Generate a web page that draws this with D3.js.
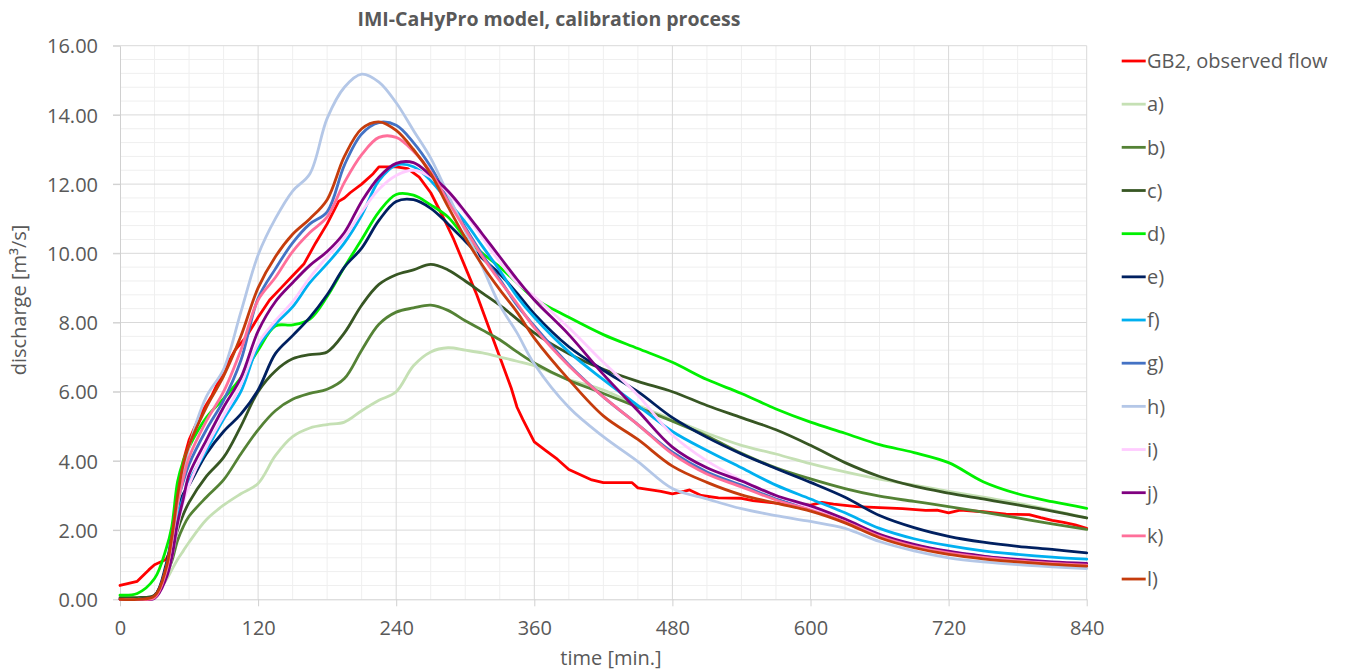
<!DOCTYPE html>
<html><head><meta charset="utf-8">
<script src="https://cdn.jsdelivr.net/npm/d3@7"></script>
<style>
body{margin:0;background:#fff}
svg text{font-family:"Open Sans",sans-serif;fill:#595959}
</style></head><body>
<svg id="chart" width="1346" height="671"></svg>
<script>
// ---------- data ----------
const titleText = "IMI-CaHyPro model, calibration process";
const xTitle = "time [min.]";
const yTitle = "discharge [m³/s]";
const xTicks = [0,120,240,360,480,600,720,840];
const yTicks = [0,2,4,6,8,10,12,14,16];
const seriesNames = ["GB2, observed flow","a)","b)","c)","d)","e)","f)","g)","h)","i)","j)","k)","l)"];

const obsTime = [0,15,25,30,40,45,50,55,60,70,80,90,100,110,120,130,140,150,160,170,180,190,195,200,210,220,225,240,250,260,270,280,290,300,310,320,330,340,345,350,360,370,380,390,400,410,420,435,445,450,460,470,480,490,495,505,520,540,550,570,600,610,620,640,660,680,700,710,720,730,750,770,790,800,810,820,830,840];
const obsFlow = [0.40,0.52,0.85,1.0,1.15,1.5,3.0,4.0,4.6,5.35,5.9,6.6,7.2,7.6,8.15,8.65,9.0,9.35,9.7,10.3,10.85,11.5,11.6,11.75,12.0,12.3,12.5,12.5,12.45,12.2,11.75,11.1,10.4,9.6,8.8,7.9,7.0,6.1,5.55,5.2,4.55,4.3,4.05,3.75,3.6,3.45,3.37,3.37,3.37,3.22,3.17,3.12,3.05,3.12,3.16,3.0,2.93,2.92,2.85,2.78,2.72,2.8,2.75,2.68,2.65,2.62,2.57,2.58,2.5,2.58,2.53,2.46,2.45,2.36,2.28,2.22,2.15,2.05];

const modelTime = [0,15,30,40,45,50,55,60,75,90,105,120,135,150,165,180,195,210,225,240,255,270,285,300,315,330,345,360,390,420,450,480,510,540,570,600,630,660,690,720,750,780,810,840];
const seriesA = [0,0,0.1,0.55,0.85,1.15,1.4,1.65, 2.3,2.72,3.05,3.35, 4.15,4.7,4.95,5.05, 5.12,5.45,5.75,6.0, 6.75,7.15,7.27,7.2, 7.12,7.0,6.88,6.75, 6.35,6.05,5.6,5.2, 4.8,4.45,4.2,3.92, 3.68,3.47,3.3,3.12, 2.95,2.78,2.57,2.35];
const seriesB = [0,0,0.1,0.7,1.1,1.7,2.1,2.4, 2.95,3.45,4.2,4.9, 5.45,5.78,5.95,6.07, 6.38,7.2,7.95,8.3, 8.42,8.5,8.35,8.05, 7.78,7.5,7.15,6.83, 6.33,5.95,5.55,5.15, 4.72,4.22,3.8,3.48, 3.2,2.98,2.83,2.68, 2.52,2.35,2.18,2.02];
const seriesC = [0.05,0.05,0.12,0.8,1.4,2.0,2.45,2.8, 3.55,4.1,5.0,6.0, 6.6,6.95,7.07,7.15, 7.7,8.5,9.1,9.38, 9.52,9.68,9.52,9.2, 8.85,8.5,8.1,7.7, 7.1,6.65,6.3,6.0, 5.6,5.25,4.9,4.45, 3.95,3.55,3.27,3.07, 2.9,2.73,2.55,2.35];
const seriesD = [0.12,0.17,0.6,1.45,2.1,3.4,4.0,4.4, 5.25,5.8,6.4,7.2, 7.9,7.93,8.1,8.75, 9.6,10.4,11.2,11.7, 11.68,11.4,11.05,10.45, 10.0,9.6,9.15,8.7, 8.15,7.65,7.25,6.85, 6.35,5.95,5.5,5.12, 4.8,4.47,4.24,3.95, 3.4,3.05,2.82,2.63];
const seriesE = [0,0,0.1,1.0,1.8,2.6,3.05,3.3, 4.2,4.85,5.35,6.05, 7.1,7.62,8.15,8.8, 9.6,10.15,10.95,11.5, 11.55,11.3,10.85,10.35, 9.85,9.4,8.85,8.25, 7.3,6.62,6.0,5.25, 4.68,4.2,3.78,3.38, 2.95,2.42,2.07,1.82, 1.65,1.53,1.44,1.34];
const seriesF = [0,0,0.05,0.8,1.5,2.4,2.95,3.4, 4.3,5.2,6.0,7.3, 7.95,8.45,9.15,9.7, 10.3,11.1,12.1,12.55, 12.5,12.1,11.5,10.9, 10.2,9.5,8.75,8.15, 7.15,6.35,5.6,4.85, 4.3,3.8,3.3,2.9, 2.5,2.05,1.75,1.55, 1.4,1.3,1.22,1.16];
const seriesG = [0,0,0.05,0.9,1.8,2.8,3.4,3.9, 4.9,5.75,6.9,8.7, 9.55,10.3,10.85,11.2, 12.55,13.45,13.78,13.7, 13.2,12.5,11.6,10.75, 9.95,9.25,8.5,7.9, 6.78,5.85,5.05,4.25, 3.68,3.3,2.9,2.62, 2.27,1.85,1.56,1.37, 1.24,1.13,1.06,1.01];
const seriesH = [0,0,0.05,0.7,1.5,2.7,3.6,4.4, 5.85,6.65,8.3,9.95, 11.0,11.8,12.3,13.9, 14.8,15.18,14.95,14.35, 13.55,12.75,11.7,10.65, 9.6,8.5,7.7,6.8, 5.55,4.7,3.98,3.2, 2.9,2.62,2.42,2.25, 2.05,1.67,1.4,1.2, 1.08,1.0,0.94,0.89];
const seriesI = [0,0,0.03,0.6,1.2,2.1,2.8,3.3, 4.4,5.3,6.2,7.4, 8.05,8.6,9.3,9.9, 10.45,11.2,11.85,12.25, 12.4,12.2,11.75,11.15, 10.45,9.75,9.15,8.75, 7.85,6.85,5.9,4.75, 4.0,3.45,3.0,2.65, 2.28,1.85,1.57,1.37, 1.23,1.13,1.06,1.01];
const seriesJ = [0,0,0.03,0.6,1.2,2.2,2.9,3.6, 4.6,5.55,6.4,7.75, 8.6,9.15,9.65,10.05, 10.6,11.5,12.2,12.6, 12.62,12.25,11.8,11.2, 10.55,9.9,9.25,8.65, 7.65,6.5,5.45,4.4, 3.8,3.42,3.0,2.7, 2.32,1.88,1.59,1.39, 1.25,1.15,1.08,1.04];
const seriesK = [0,0,0.05,0.8,1.7,2.8,3.5,4.1, 5.15,6.0,7.2,8.65, 9.3,10.05,10.6,11.05, 12.05,12.85,13.35,13.35, 12.95,12.35,11.5,10.7, 9.9,9.2,8.55,7.85, 6.75,5.85,5.05,4.2, 3.62,3.25,2.87,2.58, 2.24,1.82,1.53,1.34, 1.21,1.11,1.04,0.99];
const seriesL = [0,0,0.1,0.9,1.8,3.0,3.9,4.45, 5.55,6.45,7.6,9.0, 9.9,10.55,11.0,11.55, 12.8,13.6,13.8,13.55, 13.0,12.3,11.35,10.45, 9.65,8.95,8.3,7.55, 6.35,5.3,4.62,3.85, 3.38,3.02,2.78,2.55, 2.21,1.78,1.49,1.3, 1.17,1.08,1.01,0.96];

// ---------- styles ----------
const colors = ["#ff0000","#c5e0b4","#548235","#375623","#00f000","#002060","#00b0f0","#4472c4","#b4c7e7","#ffccff","#800080","#ff6f9a","#c53c0c"];

const allSeries = [
  {time: obsTime, vals: obsFlow, smooth:false},
  ...[seriesA,seriesB,seriesC,seriesD,seriesE,seriesF,seriesG,seriesH,seriesI,seriesJ,seriesK,seriesL].map(v=>({time:modelTime, vals:v, smooth:true}))
];

const svg = d3.select("#chart");
const x = d3.scaleLinear().domain([0,840]).range([120,1086.7]);
const y = d3.scaleLinear().domain([0,16]).range([599.3,45.7]);

// minor grid
const g0 = svg.append("g");
g0.selectAll(".vminor").data(d3.range(30,841,30).filter(d=>d%120!==0)).join("line")
  .attr("x1",d=>x(d)).attr("x2",d=>x(d)).attr("y1",y(0)).attr("y2",y(16))
  .attr("stroke","#efefef").attr("stroke-width",1);
g0.selectAll(".hminor").data(d3.range(1,40).map(i=>i*0.4).filter(d=>Math.abs(d/2-Math.round(d/2))>1e-6)).join("line")
  .attr("x1",x(0)).attr("x2",x(840)).attr("y1",d=>y(d)).attr("y2",d=>y(d))
  .attr("stroke","#efefef").attr("stroke-width",1);
// major grid
g0.selectAll(".vmajor").data(xTicks.filter(d=>d>0)).join("line")
  .attr("x1",d=>x(d)).attr("x2",d=>x(d)).attr("y1",y(0)).attr("y2",y(16))
  .attr("stroke","#d9d9d9").attr("stroke-width",1);
g0.selectAll(".hmajor").data(yTicks.filter(d=>d>0)).join("line")
  .attr("x1",x(0)-7).attr("x2",x(840)).attr("y1",d=>y(d)).attr("y2",d=>y(d))
  .attr("stroke","#d9d9d9").attr("stroke-width",1);

// axes
const xAxis = svg.append("g").attr("transform",`translate(0,${y(0)})`)
  .call(d3.axisBottom(x).tickValues(xTicks).tickSize(7).tickSizeOuter(0).tickPadding(15).tickFormat(d=>d));
const yAxis = svg.append("g").attr("transform",`translate(${x(0)},0)`)
  .call(d3.axisLeft(y).tickValues(yTicks).tickSize(7).tickSizeOuter(0).tickPadding(15).tickFormat(d3.format(".2f")));
[xAxis,yAxis].forEach(a=>{
  a.select(".domain").attr("stroke","#d0d0d0");
  a.selectAll(".tick line").attr("stroke","#d0d0d0");
  a.selectAll(".tick text").attr("font-size","20px").attr("fill","#595959").attr("font-family","'Open Sans',sans-serif");
});
yAxis.selectAll(".tick text").attr("dy","0.36em");

// lines
const lineSmooth = d3.line().x(d=>x(d[0])).y(d=>y(d[1])).curve(d3.curveCatmullRom.alpha(0.5));
const lineStraight = d3.line().x(d=>x(d[0])).y(d=>y(d[1]));
const lg = svg.append("g");
allSeries.forEach((s,i)=>{
  const pts = s.time.map((t,k)=>[t,s.vals[k]]);
  lg.append("path").attr("d",(s.smooth?lineSmooth:lineStraight)(pts))
    .attr("fill","none").attr("stroke",colors[i]).attr("stroke-width",2.8)
    .attr("stroke-linejoin","round").attr("stroke-linecap","round");
});

// title
svg.append("text").attr("x",549).attr("y",26).attr("text-anchor","middle")
  .attr("font-size","19.5px").attr("font-weight","bold").text(titleText);
// axis titles
svg.append("text").attr("x",611).attr("y",665).attr("text-anchor","middle")
  .attr("font-size","20px").text(xTitle);
svg.append("text").attr("transform","translate(26,300) rotate(-90)").attr("text-anchor","middle")
  .attr("font-size","20px").text(yTitle);

// legend
const leg = svg.append("g");
seriesNames.forEach((n,i)=>{
  const yy = 61 + i*43.17;
  leg.append("line").attr("x1",1121.7).attr("x2",1145.7).attr("y1",yy).attr("y2",yy)
    .attr("stroke",colors[i]).attr("stroke-width",2.8);
  leg.append("text").attr("x",1147).attr("y",yy).attr("dy","0.36em").attr("font-size","20px").text(n);
});
</script>
</body></html>
